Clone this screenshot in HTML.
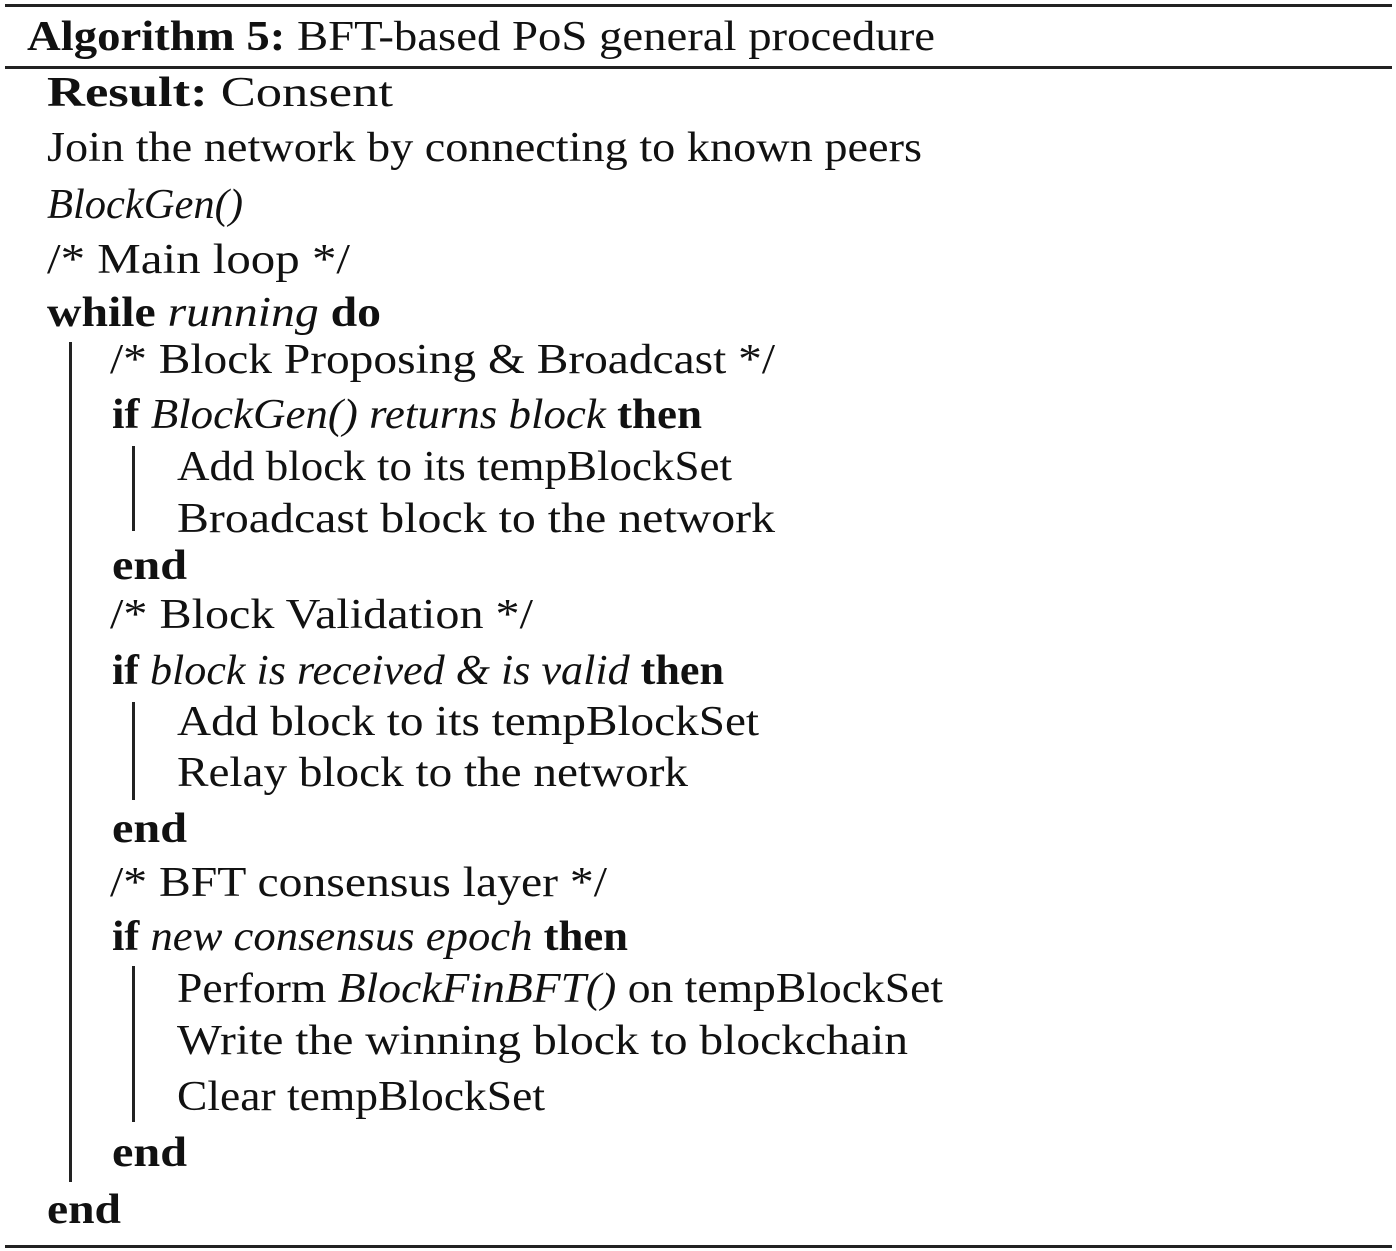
<!DOCTYPE html>
<html><head><meta charset="utf-8"><style>
html,body{margin:0;padding:0;background:#fff;}
#wrap{position:relative;width:1396px;height:1251px;overflow:hidden;font-family:"Liberation Serif",serif;color:#111;}
.l{position:absolute;white-space:nowrap;font-size:42px;line-height:50px;height:50px;transform-origin:0 50%;}
.rule{position:absolute;left:5px;width:1387px;background:#222;}
.bar{position:absolute;width:3px;background:#222;}
b{font-weight:bold;}
</style></head><body>
<div id="wrap">
<div class="rule" style="top:4px;height:3px"></div>
<div class="rule" style="top:66px;height:3px"></div>
<div class="rule" style="top:1245px;height:3px"></div>
<div class="l" data-r="935" style="left:27px;top:12px"><b>Algorithm 5:</b> BFT-based PoS general procedure</div>
<div class="l" data-r="393" style="left:47px;top:68px"><b>Result:</b> Consent</div>
<div class="l" data-r="922" style="left:47px;top:123px">Join the network by connecting to known peers</div>
<div class="l" data-r="243" style="left:47px;top:180px"><i>BlockGen()</i></div>
<div class="l" data-r="350" style="left:47px;top:235px">/* Main loop */</div>
<div class="l" data-r="381" style="left:47px;top:288px"><b>while</b> <i>running</i> <b>do</b></div>
<div class="bar" style="left:69px;top:342px;height:840px"></div>
<div class="l" data-r="775" style="left:110px;top:335px">/* Block Proposing &amp; Broadcast */</div>
<div class="l" data-r="702" style="left:112px;top:390px"><b>if</b> <i>BlockGen() returns block</i> <b>then</b></div>
<div class="bar" style="left:132px;top:446px;height:85px"></div>
<div class="l" data-r="732" style="left:177px;top:442px">Add block to its tempBlockSet</div>
<div class="l" data-r="775" style="left:177px;top:494px">Broadcast block to the network</div>
<div class="l" data-r="187" style="left:112px;top:541px"><b>end</b></div>
<div class="l" data-r="533" style="left:110px;top:590px">/* Block Validation */</div>
<div class="l" data-r="724" style="left:112px;top:646px"><b>if</b> <i>block is received &amp; is valid</i> <b>then</b></div>
<div class="bar" style="left:132px;top:702px;height:98px"></div>
<div class="l" data-r="759" style="left:177px;top:697px">Add block to its tempBlockSet</div>
<div class="l" data-r="688" style="left:177px;top:748px">Relay block to the network</div>
<div class="l" data-r="187" style="left:112px;top:804px"><b>end</b></div>
<div class="l" data-r="607" style="left:110px;top:858px">/* BFT consensus layer */</div>
<div class="l" data-r="628" style="left:112px;top:912px"><b>if</b> <i>new consensus epoch</i> <b>then</b></div>
<div class="bar" style="left:132px;top:966px;height:156px"></div>
<div class="l" data-r="943" style="left:177px;top:964px">Perform <i>BlockFinBFT()</i> on tempBlockSet</div>
<div class="l" data-r="908" style="left:177px;top:1016px">Write the winning block to blockchain</div>
<div class="l" data-r="545" style="left:177px;top:1072px">Clear tempBlockSet</div>
<div class="l" data-r="187" style="left:112px;top:1128px"><b>end</b></div>
<div class="l" data-r="121" style="left:47px;top:1185px"><b>end</b></div>
</div>
<script>
document.querySelectorAll('.l[data-r]').forEach(function(el){
  var left=parseFloat(el.style.left);
  var target=parseFloat(el.getAttribute('data-r'))-left;
  var w=el.getBoundingClientRect().width;
  if(w>0){el.style.transform='scaleX('+(target/w)+')';}
});
</script>
</body></html>
